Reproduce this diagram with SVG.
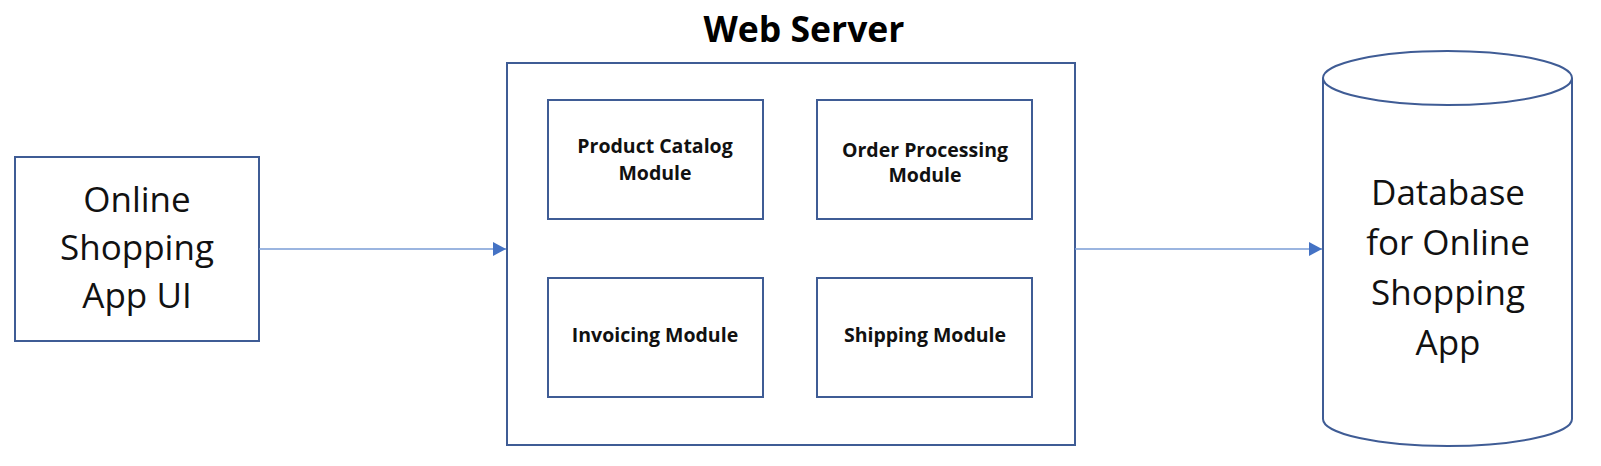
<svg xmlns="http://www.w3.org/2000/svg" width="1601" height="466" viewBox="0 0 1601 466">
<style>
.box{fill:#fff;stroke:#3F5C95;stroke-width:2}
.big{font-family:"Open Sans","Noto Sans",sans-serif;font-size:35px;fill:#111;text-anchor:middle}
.mod{font-family:"Open Sans","Noto Sans",sans-serif;font-size:19.5px;font-weight:bold;fill:#111;text-anchor:middle}
.title{font-family:"Open Sans","Noto Sans",sans-serif;font-size:35.5px;font-weight:bold;fill:#000;text-anchor:middle}
.conn{stroke:#7A9DD6;stroke-width:1.5;fill:none;marker-end:url(#ah)}
</style>
<defs>
<marker id="ah" markerWidth="13" markerHeight="14" refX="13" refY="7" orient="auto" markerUnits="userSpaceOnUse">
<path d="M0,0 L13,7 L0,14 Z" fill="#4472C4"/>
</marker>
</defs>
<rect width="1601" height="466" fill="#fff"/>
<g id="ui">
<rect class="box" x="15" y="157" width="244" height="184"/>
<text class="big" x="137" y="212">Online</text>
<text class="big" x="137" y="260">Shopping</text>
<text class="big" x="137" y="308">App UI</text>
</g>
<g id="webserver">
<text class="title" x="804" y="42">Web Server</text>
<rect class="box" x="507" y="63" width="568" height="382"/>
</g>
<g id="product-catalog">
<rect class="box" x="548" y="100" width="215" height="119"/>
<text class="mod" x="655" y="153">Product Catalog</text>
<text class="mod" x="655" y="180">Module</text>
</g>
<g id="order-processing">
<rect class="box" x="817" y="100" width="215" height="119"/>
<text class="mod" x="925" y="157">Order Processing</text>
<text class="mod" x="925" y="182">Module</text>
</g>
<g id="invoicing">
<rect class="box" x="548" y="278" width="215" height="119"/>
<text class="mod" x="655" y="342">Invoicing Module</text>
</g>
<g id="shipping">
<rect class="box" x="817" y="278" width="215" height="119"/>
<text class="mod" x="925" y="342">Shipping Module</text>
</g>
<g id="database">
<path class="box" d="M1323,78 L1323,419 A124.5,27 0 0 0 1572,419 L1572,78"/>
<ellipse class="box" cx="1447.5" cy="78" rx="124.5" ry="27"/>
<text class="big" x="1448" y="205">Database</text>
<text class="big" x="1448" y="255">for Online</text>
<text class="big" x="1448" y="305">Shopping</text>
<text class="big" x="1448" y="355">App</text>
</g>
<g id="connectors">
<line class="conn" x1="259" y1="249" x2="506" y2="249"/>
<line class="conn" x1="1075" y1="249" x2="1322" y2="249"/>
</g>
</svg>
